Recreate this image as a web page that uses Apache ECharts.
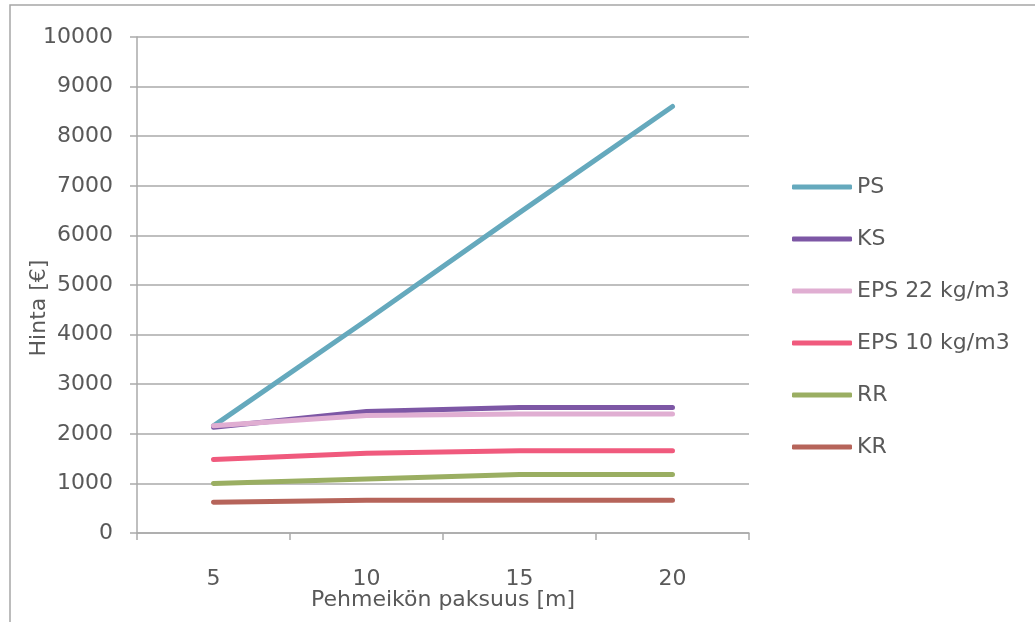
<!DOCTYPE html>
<html>
<head>
<meta charset="utf-8">
<script src="https://cdn.jsdelivr.net/npm/echarts@6/dist/echarts.min.js"></script>
<style>
html,body{margin:0;padding:0;background:#fff;}
#c{width:1035px;height:622px;}
</style>
</head>
<body>
<div id="c"></div>
<script>
const categories = ['5', '10', '15', '20'];
const seriesNames = ['PS', 'KS', 'EPS 22 kg/m3', 'EPS 10 kg/m3', 'RR', 'KR'];
const PS = [2160, 4290, 6460, 8600];
const KS = [2130, 2450, 2530, 2530];
const EPS22 = [2160, 2370, 2400, 2400];
const EPS10 = [1480, 1610, 1660, 1660];
const RR = [1000, 1090, 1180, 1180];
const KR = [620, 660, 660, 660];
const colors = ['#65a9bd', '#7d57a5', '#e0aed2', '#f05a7d', '#9aae62', '#b6645a'];
const values = [PS, KS, EPS22, EPS10, RR, KR];

const FONT = 'DejaVu Sans';
const TXT = '#595959';
const GRIDC = '#aaaaaa';

const chart = echarts.init(document.getElementById('c'), null, {renderer: 'canvas'});
chart.setOption({
  animation: false,
  backgroundColor: '#ffffff',
  graphic: [{
    type: 'rect', silent: true, z: -10,
    shape: {x: 10, y: 5, width: 1100, height: 700},
    style: {fill: 'none', stroke: '#a6a6a6', lineWidth: 1.5}
  }],
  grid: {left: 137, right: 286, top: 37, bottom: 89, containLabel: false},
  legend: {
    orient: 'vertical',
    left: 787, top: 171,
    icon: 'roundRect',
    itemWidth: 60, itemHeight: 5, itemGap: 30,
    textStyle: {fontFamily: FONT, fontSize: 22, color: TXT, lineHeight: 22},
    data: seriesNames
  },
  xAxis: {
    type: 'category',
    data: categories,
    boundaryGap: true,
    name: 'Pehmeikön paksuus [m]',
    nameLocation: 'middle',
    nameGap: 56,
    nameMoveOverlap: false,
    nameTextStyle: {fontFamily: FONT, fontSize: 22, color: TXT},
    axisLine: {show: true, lineStyle: {color: GRIDC, width: 1.5}},
    axisTick: {show: true, length: 7, inside: false, alignWithLabel: false, lineStyle: {color: GRIDC, width: 1.5}},
    axisLabel: {fontFamily: FONT, fontSize: 22, color: TXT, margin: 35},
    splitLine: {show: false}
  },
  yAxis: {
    type: 'value',
    min: 0, max: 10000, interval: 1000,
    name: 'Hinta [€]',
    nameLocation: 'middle',
    nameGap: 87,
    nameRotate: 90,
    nameMoveOverlap: false,
    nameTextStyle: {fontFamily: FONT, fontSize: 22, color: TXT, padding: [0, 46, 0, 0]},
    axisLine: {show: true, lineStyle: {color: GRIDC, width: 1.5}},
    axisTick: {show: true, length: 7, inside: false, lineStyle: {color: GRIDC, width: 1.5}},
    axisLabel: {fontFamily: FONT, fontSize: 22, color: TXT, margin: 24, formatter: v => String(v)},
    splitLine: {show: true, lineStyle: {color: GRIDC, width: 1.5}}
  },
  series: seriesNames.map((n, i) => ({
    name: n,
    type: 'line',
    data: values[i],
    symbol: 'none',
    smooth: false,
    color: colors[i],
    lineStyle: {width: 5, color: colors[i], cap: 'round', join: 'round'},
    itemStyle: {color: colors[i]},
    z: 2 + i
  }))
});
</script>
</body>
</html>
